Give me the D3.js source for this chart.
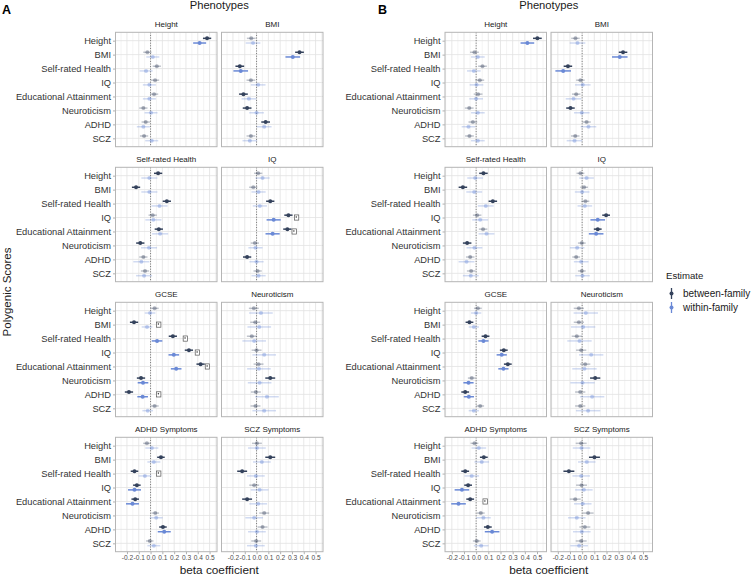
<!DOCTYPE html>
<html><head><meta charset="utf-8">
<script src="https://cdn.jsdelivr.net/npm/d3@7"></script>
<style>body{margin:0;background:#fff}svg{display:block;font-family:"Liberation Sans",Arial,sans-serif}</style>
</head><body><svg id="c" width="756" height="576"></svg>
<script>
const phenotypes = ["Height","BMI","Self-rated Health","IQ","GCSE","Neuroticism","ADHD Symptoms","SCZ Symptoms"];
const pgs = ["Height","BMI","Self-rated Health","IQ","Educational Attainment","Neuroticism","ADHD","SCZ"];
const tickValues = [-0.2,-0.1,0.0,0.1,0.2,0.3,0.4,0.5];
const estimateLabels = ["between-family","within-family"];

// Panel A: rows = phenotype facets, columns = PGS
const A_between = [
  [0.479,-0.027,0.053,0.038,0.030,-0.061,-0.041,-0.055],
  [-0.045,0.364,-0.142,-0.048,-0.111,-0.080,0.077,-0.048],
  [0.064,-0.123,0.138,0.018,0.070,-0.087,-0.061,-0.047],
  [0.014,-0.028,0.116,0.270,0.261,-0.014,-0.080,0.009],
  [0.034,-0.140,0.189,0.325,0.424,-0.081,-0.183,0.034],
  [-0.023,-0.011,-0.040,0.000,0.017,0.116,-0.006,-0.009],
  [-0.031,0.088,-0.136,-0.116,-0.130,0.040,0.105,-0.007],
  [0.003,0.116,-0.122,-0.020,-0.080,0.065,0.051,-0.003]];
const A_between_sig = [
  [1,0,0,0,0,0,0,0],[0,1,1,0,1,1,1,0],[1,1,1,0,1,1,0,0],[0,0,1,1,1,0,1,0],
  [0,1,1,1,1,1,1,0],[0,0,0,0,0,1,0,0],[0,1,1,1,1,0,1,0],[0,1,1,0,1,0,0,0]];
const A_within = [
  [0.416,0.019,-0.038,-0.010,-0.010,0.004,-0.061,0.010],
  [-0.030,0.307,-0.134,0.014,-0.065,0.000,0.065,-0.057],
  [-0.010,-0.010,0.076,0.024,0.081,-0.013,-0.078,-0.055],
  [0.051,0.017,0.028,0.145,0.136,-0.009,0.000,0.017],
  [-0.004,-0.030,0.055,0.197,0.217,-0.064,-0.067,-0.024],
  [0.037,0.023,-0.020,0.065,0.020,0.026,0.088,0.065],
  [0.011,0.028,-0.048,-0.136,-0.153,0.048,0.116,0.028],
  [0.003,0.045,-0.006,0.026,0.014,-0.020,0.003,-0.006]];
const A_within_sig = [
  [1,0,0,0,0,0,0,0],[0,1,1,0,0,0,0,0],[0,0,0,0,0,0,0,0],[0,0,0,1,1,0,0,0],
  [0,0,1,1,1,1,1,0],[0,0,0,0,0,0,0,0],[0,0,0,1,1,0,1,0],[0,0,0,0,0,0,0,0]];
const A_ci_between = [0.035,0.037,0.035,0.035,0.035,0.042,0.032,0.042];
const A_ci_within = [0.055,0.062,0.068,0.060,0.045,0.100,0.055,0.075];
// difference markers: [facet index, pgs index, x position]
const A_marks = [[3,3,0.339],[3,4,0.319],[4,1,0.069],[4,2,0.295],[4,3,0.397],[4,4,0.482],[4,6,0.069],[6,2,0.069]];

// Panel B
const B_between = [
  [0.503,-0.014,0.052,0.030,0.016,-0.057,-0.027,-0.055],
  [-0.055,0.336,-0.117,-0.014,-0.049,-0.096,0.036,-0.057],
  [0.060,-0.109,0.137,0.008,0.057,-0.074,-0.049,-0.041],
  [-0.014,0.016,0.027,0.197,0.128,-0.003,-0.049,-0.003],
  [0.014,-0.055,0.077,0.227,0.260,-0.036,-0.090,0.033],
  [-0.027,-0.027,-0.044,-0.008,0.025,0.107,-0.016,-0.016],
  [-0.014,0.063,-0.090,-0.066,-0.049,0.038,0.096,0.005],
  [-0.008,0.101,-0.109,-0.005,-0.057,0.049,0.022,-0.008]];
const B_between_sig = [
  [1,0,0,0,0,0,0,0],[0,1,1,0,0,1,0,0],[1,1,1,0,0,1,0,0],[0,0,0,1,1,0,0,0],
  [0,1,1,1,1,0,1,0],[0,0,0,0,0,1,0,0],[0,1,1,1,1,0,1,0],[0,1,1,0,0,0,0,0]];
const B_within = [
  [0.421,0.014,-0.019,0.003,0.000,0.014,-0.063,0.014],
  [-0.038,0.309,-0.156,0.005,-0.071,-0.003,0.052,-0.063],
  [-0.008,-0.016,0.079,0.033,0.085,-0.014,-0.079,-0.044],
  [0.036,0.000,0.022,0.128,0.115,-0.041,-0.008,0.003],
  [0.000,-0.019,0.060,0.210,0.224,-0.063,-0.060,-0.019],
  [0.030,0.008,-0.022,0.074,0.019,0.003,0.082,0.049],
  [0.022,0.046,-0.036,-0.117,-0.145,0.060,0.131,0.041],
  [-0.005,0.038,-0.008,0.014,0.005,-0.044,-0.003,-0.025]];
const B_within_sig = [
  [1,0,0,0,0,0,0,0],[0,1,1,0,0,0,0,0],[0,0,0,0,0,0,0,0],[0,0,0,1,1,0,0,0],
  [0,0,1,1,1,1,1,0],[0,0,0,0,0,0,0,0],[0,0,0,1,1,0,1,0],[0,0,0,0,0,0,0,0]];
const B_ci_between = [0.036,0.035,0.035,0.032,0.032,0.042,0.032,0.045];
const B_ci_within = [0.056,0.064,0.065,0.060,0.042,0.100,0.060,0.072];
const B_marks = [[6,4,0.074]];

const colDark = "#34425c", colBlue = "#6a89d6";
const svg = d3.select("#c");
const rowTops = [32.3,167.3,302.3,437.3], panelH = 114.4, panelW = 101.5;

const panels = [
  {label:"A", cols:[115.5,221.5], domain:[-0.297,0.563], between:A_between, bsig:A_between_sig, within:A_within, wsig:A_within_sig, cib:A_ci_between, ciw:A_ci_within, marks:A_marks, ytitle:true},
  {label:"B", cols:[445,551], domain:[-0.256,0.578], between:B_between, bsig:B_between_sig, within:B_within, wsig:B_within_sig, cib:B_ci_between, ciw:B_ci_within, marks:B_marks, ytitle:false}
];

const minor = d3.range(-0.25,0.6,0.1).map(v=>+v.toFixed(2));

panels.forEach(P=>{
  const xL = P.cols[0];
  svg.append("text").attr("x",P.label==="A"?2:378).attr("y",14).attr("font-size",12.5).attr("font-weight","bold").attr("fill","#000").text(P.label);
  svg.append("text").attr("x",(P.cols[0]+P.cols[1]+panelW)/2).attr("y",9).attr("text-anchor","middle").attr("font-size",11.2).attr("fill","#1a1a1a").text("Phenotypes");
  svg.append("text").attr("x",(P.cols[0]+P.cols[1]+panelW)/2).attr("y",574).attr("text-anchor","middle").attr("font-size",11.8).attr("fill","#1a1a1a").text("beta coefficient");
  if(P.ytitle){
    svg.append("text").attr("transform","translate(11,292) rotate(-90)").attr("text-anchor","middle").attr("font-size",11.5).attr("fill","#1a1a1a").text("Polygenic Scores");
  }
  phenotypes.forEach((ph,fi)=>{
    const r = Math.floor(fi/2), c = fi%2;
    const left = P.cols[c], top = rowTops[r];
    const x = d3.scaleLinear().domain(P.domain).range([left,left+panelW]);
    const y = d3.scalePoint().domain(pgs).range([top,top+panelH]).padding(0.6);
    const g = svg.append("g");
    // strip
    g.append("text").attr("x",left+panelW/2).attr("y",top-5).attr("text-anchor","middle").attr("font-size",8).attr("fill","#1a1a1a").text(ph);
    // grid
    g.selectAll(".mn").data(minor.filter(v=>x(v)>left&&x(v)<left+panelW)).join("line")
      .attr("x1",d=>x(d)).attr("x2",d=>x(d)).attr("y1",top).attr("y2",top+panelH).attr("stroke","#ececec").attr("stroke-width",0.6);
    g.selectAll(".mj").data(tickValues).join("line")
      .attr("x1",d=>x(d)).attr("x2",d=>x(d)).attr("y1",top).attr("y2",top+panelH).attr("stroke","#e2e2e2").attr("stroke-width",0.8);
    g.selectAll(".hz").data(pgs).join("line")
      .attr("x1",left).attr("x2",left+panelW).attr("y1",d=>y(d)).attr("y2",d=>y(d)).attr("stroke","#e2e2e2").attr("stroke-width",0.8);
    // zero line
    g.append("line").attr("x1",x(0)).attr("x2",x(0)).attr("y1",top).attr("y2",top+panelH).attr("stroke","#555").attr("stroke-width",0.8).attr("stroke-dasharray","1,1.6");
    // y axis
    if(c===0){
      const ya = g.append("g").attr("transform",`translate(${left},0)`).call(d3.axisLeft(y).tickSize(2.5).tickPadding(2));
      ya.select(".domain").remove();
      ya.selectAll("line").attr("stroke","#b0b0b0");
      ya.selectAll("text").attr("font-size",9.3).attr("fill","#333").attr("font-family","Liberation Sans, Arial, sans-serif");
    }
    if(r===3){
      const xa = g.append("g").attr("transform",`translate(0,${top+panelH})`).call(d3.axisBottom(x).tickValues(tickValues).tickSize(2.5).tickPadding(1.5).tickFormat(d=>d.toFixed(1)));
      xa.select(".domain").remove();
      xa.selectAll("line").attr("stroke","#b0b0b0");
      xa.selectAll("text").attr("font-size",6.6).attr("fill","#4d4d4d").attr("font-family","Liberation Sans, Arial, sans-serif");
    }
    // points
    const series = [
      {vals:P.between[fi], sig:P.bsig[fi], ci:P.cib[fi], col:colDark, dy:-2.35},
      {vals:P.within[fi], sig:P.wsig[fi], ci:P.ciw[fi], col:colBlue, dy:2.35}
    ];
    series.forEach(s=>{
      const data = pgs.map((p,i)=>({p, v:s.vals[i], sig:s.sig[i]}));
      const sg = g.append("g");
      sg.selectAll("line").data(data).join("line")
        .attr("x1",d=>x(d.v-s.ci)).attr("x2",d=>x(d.v+s.ci))
        .attr("y1",d=>y(d.p)+s.dy).attr("y2",d=>y(d.p)+s.dy)
        .attr("stroke",s.col).attr("stroke-width",1.5).attr("opacity",d=>d.sig?1:0.3);
      sg.selectAll("circle").data(data).join("circle")
        .attr("cx",d=>x(d.v)).attr("cy",d=>y(d.p)+s.dy).attr("r",2)
        .attr("fill",s.col).attr("opacity",d=>d.sig?1:0.4);
    });
    // difference markers
    const mk = P.marks.filter(m=>m[0]===fi);
    const mg = g.selectAll(".mk").data(mk).join("g").attr("transform",m=>`translate(${x(m[2])},${y(pgs[m[1]])})`);
    mg.append("rect").attr("x",-2.2).attr("y",-2.6).attr("width",4.4).attr("height",5.2).attr("fill","#fff").attr("stroke","#555").attr("stroke-width",0.7);
    mg.append("circle").attr("cx",-0.3).attr("cy",-0.6).attr("r",0.75).attr("fill","#333");
    // border
    g.append("rect").attr("x",left).attr("y",top).attr("width",panelW).attr("height",panelH).attr("fill","none").attr("stroke","#b5b5b5").attr("stroke-width",1);
  });
});

// legend
const lg = svg.append("g");
lg.append("text").attr("x",666).attr("y",279).attr("font-size",9.6).attr("fill","#1a1a1a").text("Estimate");
[colDark,colBlue].forEach((col,i)=>{
  const cy = 293.5 + i*14;
  lg.append("line").attr("x1",671.5).attr("x2",671.5).attr("y1",cy-5.5).attr("y2",cy+5.5).attr("stroke",col).attr("stroke-width",1.3);
  lg.append("circle").attr("cx",671.5).attr("cy",cy).attr("r",2).attr("fill",col);
  lg.append("text").attr("x",683).attr("y",cy+3.5).attr("font-size",10).attr("fill","#1a1a1a").text(estimateLabels[i]);
});
</script></body></html>
